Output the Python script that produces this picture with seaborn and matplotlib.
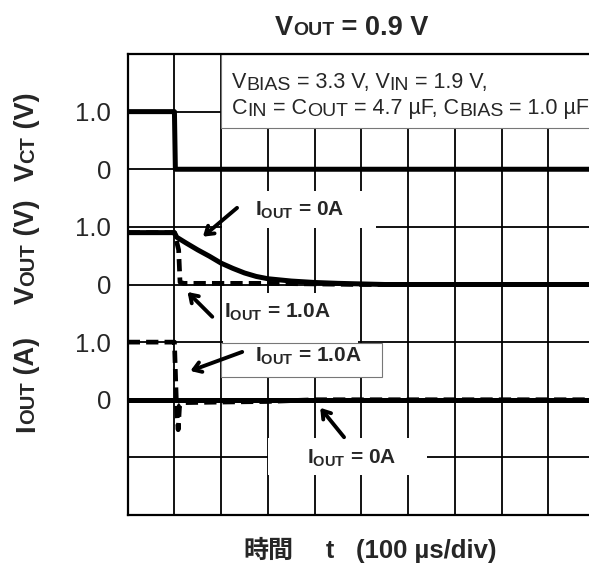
import numpy as np
import pandas as pd
import matplotlib
matplotlib.use('Agg')
import matplotlib.pyplot as plt
from matplotlib.patches import Rectangle
import seaborn as sns

# time in us (100 us/div, 10 div), values in V or A
t_vct = [0, 100, 102, 1000]
vct = [1.0, 1.0, 0.0, 0.0]

t_vout_0a = [0, 100, 105, 125, 150, 175, 200, 225, 250, 275, 300, 350, 400, 450, 500, 550, 1000]
vout_0a = [0.9, 0.9, 0.82, 0.72, 0.60, 0.49, 0.37, 0.28, 0.20, 0.14, 0.10, 0.06, 0.035, 0.02, 0.01, 0.0, 0.0]

t_vout_1a = [0, 100, 103, 109, 112, 120, 200, 300, 400, 500, 1000]
vout_1a = [0.9, 0.9, 0.80, 0.60, 0.04, 0.02, 0.02, 0.02, 0.01, 0.0, 0.0]

t_iout_1a = [0, 100, 102, 104, 106, 108, 111, 120, 200, 300, 400, 1000]
iout_1a = [1.0, 1.0, 0.5, 0.0, -0.3, -0.52, -0.1, -0.05, -0.04, -0.03, 0.0, 0.0]

t_iout_0a = [0, 1000]
iout_0a = [0.0, 0.0]

# y tick labels on the division grid (0..8 from bottom)
ytick_labels = ['', '', '0', '1.0', '0', '1.0', '0', '1.0', '']

# zero level (in divisions) of each channel, 1 unit per div
zero_vct, zero_vout, zero_iout = 6, 4, 2

W, H = 589, 568

sns.set_theme(style='white')
plt.rcParams['font.family'] = ['Liberation Sans', 'Noto Sans CJK JP']
plt.rcParams['mathtext.fontset'] = 'custom'
plt.rcParams['mathtext.rm'] = 'Liberation Sans'
plt.rcParams['mathtext.bf'] = 'Liberation Sans:bold'

fig = plt.figure(figsize=(W / 100, H / 100), dpi=100)
ax = fig.add_axes([127.7 / W, (H - 515) / H, (595 - 127.7) / W, (515 - 54) / H])

# traces
dash = (0, (2.6, 1.3))
sns.lineplot(x=t_vct, y=np.array(vct) + zero_vct, ax=ax, color='black', lw=3.6, sort=False, zorder=5)
sns.lineplot(x=t_vout_1a, y=np.array(vout_1a) + zero_vout, ax=ax, color='black', lw=3.4,
             linestyle=dash, sort=False, zorder=5)
sns.lineplot(x=t_vout_0a, y=np.array(vout_0a) + zero_vout, ax=ax, color='black', lw=3.6, sort=False, zorder=6)
sns.lineplot(x=t_iout_0a, y=np.array(iout_0a) + zero_iout, ax=ax, color='black', lw=3.6, sort=False, zorder=5)
sns.lineplot(x=t_iout_1a, y=np.array(iout_1a) + zero_iout, ax=ax, color='black', lw=3.4,
             linestyle=dash, sort=False, zorder=6)

ax.set_xlim(0, 1000)
ax.set_ylim(0, 8)
ax.set_xticks(range(0, 1001, 100))
ax.set_xticklabels([])
ax.set_yticks(range(0, 9))
ax.set_yticklabels(ytick_labels, fontsize=18.5)
ax.tick_params(length=0, pad=12)
ax.set_xlabel('')
ax.set_ylabel('')
ax.set_axisbelow(True)
ax.grid(True, color='black', lw=1.3)
for s in ax.spines.values():
    s.set_color('black')
    s.set_linewidth(1.6)

# white boxes behind the texts (in us / div)
boxes = [((200, 6.72), 820, 1.28, True),
         ((202, 4.98), 330, 0.65, False),
         ((203, 2.99), 290, 0.86, False),
         ((200, 2.39), 345, 0.60, True),
         ((301, 0.69), 340, 0.65, False)]
for (x0, y0), w, h, edge in boxes:
    ax.add_patch(Rectangle((x0, y0), w, h, facecolor='white',
                           edgecolor='#777777' if edge else 'none', lw=0.8, zorder=1))

# annotations
labels = [(369, 5.28, r'$\mathbf{I_{OUT}}$ = 0A', (234, 5.33), (161, 4.83)),
          (320, 3.51, r'$\mathbf{I_{OUT}}$ = 1.0A', (181, 3.44), (128, 3.87)),
          (386, 2.76, r'$\mathbf{I_{OUT}}$ = 1.0A', (245, 2.83), (134, 2.50)),
          (480, 0.99, r'$\mathbf{I_{OUT}}$ = 0A', (463, 1.35), (412, 1.86))]
for tx, ty, s, tail, head in labels:
    ax.text(tx, ty, s, fontsize=15, fontweight='bold', ha='center', va='center', zorder=8)
    ax.annotate('', xy=head, xytext=tail,
                arrowprops=dict(arrowstyle='->,head_length=0.45,head_width=0.3', lw=2.8,
                                color='black', shrinkA=0, shrinkB=0), zorder=8)


def chain_text(px, py, parts, rotation=0, weight='normal'):
    # draw text pieces one after another, px/py are image pixels (top-left origin)
    prev = None
    for s, size, shift in parts:
        if prev is None:
            xy, xyc = (px / W, 1 - py / H), 'figure fraction'
        elif rotation == 0:
            xy, xyc = (1, 1 - py / H), (prev, 'figure fraction')
        else:
            xy, xyc = (px / W, 1), ('figure fraction', prev)
        off = (0, shift) if rotation == 0 else (-shift, 0)
        prev = ax.annotate(s, xy=xy, xycoords=xyc, xytext=off, textcoords='offset points',
                           fontsize=size, fontweight=weight, rotation=rotation,
                           rotation_mode='anchor', ha='left', va='baseline',
                           annotation_clip=False, zorder=9)


# title
chain_text(275, 35, [('V', 19.5, 0), ('OUT', 14, 0), (' = 0.9 V', 19.5, 0)], weight='bold')

# conditions box
chain_text(232, 88, [('V', 15.5, 0), ('BIAS', 14, -1.5), (' = 3.3 V, V', 15.5, 0),
                     ('IN', 14, -1.5), (' = 1.9 V,', 15.5, 0)])
chain_text(232, 114, [('C', 15.5, 0), ('IN', 14, -1.5), (' = C', 15.5, 0), ('OUT', 14, -1.5),
                      (' = 4.7 µF, C', 15.5, 0), ('BIAS', 14, -1.5), (' = 1.0 µF', 15.5, 0)])

# channel labels
chain_text(34, 181, [('V', 19.5, 0), ('CT', 14.5, 0), (' (V)', 19.5, 0)], rotation=90, weight='bold')
chain_text(34, 304, [('V', 19.5, 0), ('OUT', 14.5, 0), (' (V)', 19.5, 0)], rotation=90, weight='bold')
chain_text(34, 432, [('I', 19.5, 0), ('OUT', 14.5, 0), (' (A)', 19.5, 0)], rotation=90, weight='bold')

# x label
fig.text(243 / W, 1 - 558 / H, '時間', fontsize=18, fontweight='bold', ha='left', va='baseline')
fig.text(326 / W, 1 - 558 / H, 't', fontsize=18, fontweight='bold', ha='left', va='baseline')
fig.text(356 / W, 1 - 558 / H, '(100 µs/div)', fontsize=18.5, fontweight='bold', ha='left', va='baseline')

fig.savefig('out.png', dpi=100)
